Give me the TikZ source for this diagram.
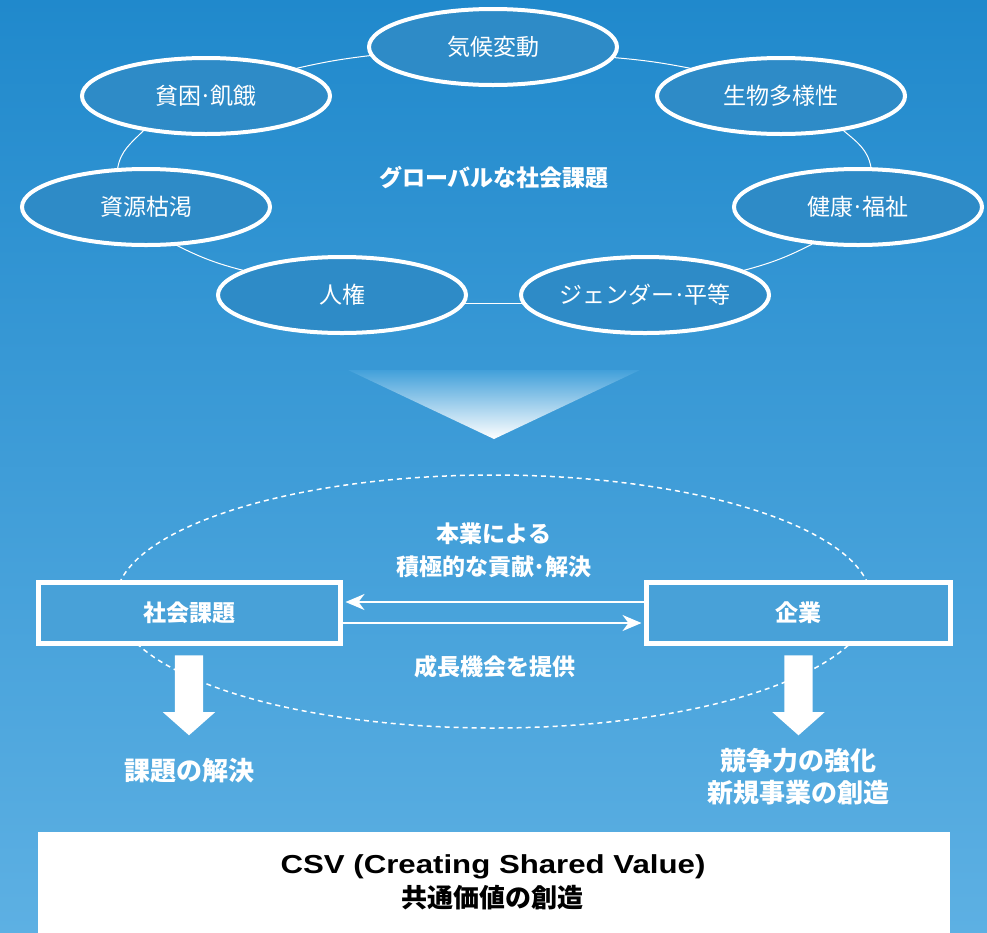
\documentclass[tikz,border=0pt]{standalone}
\usepackage{graphicx}
\usepackage{fontspec}
\newfontfamily\jp{Noto Sans CJK JP}
\newfontfamily\lat{Liberation Sans}
\usetikzlibrary{shapes.geometric,shapes.arrows,arrows.meta}
\definecolor{bgtop}{RGB}{32,137,204}
\definecolor{bgbot}{RGB}{93,176,227}
\definecolor{ellfill}{RGB}{46,139,199}
\definecolor{boxfill}{RGB}{72,161,216}
\definecolor{tritop}{RGB}{66,160,218}
\newcommand\nakaten{\kern-0.08em·\kern-0.08em}
\begin{document}
\begin{tikzpicture}[x=1pt,y=-1pt,
 issue/.style={ellipse, draw=white, line width=4pt, fill=ellfill, minimum width=248pt, minimum height=76pt, inner sep=0pt, text=white, font=\jp\fontsize{23}{26}\selectfont},
 link/.style={draw=white, line width=1pt},
 actor/.style={rectangle, draw=white, line width=5pt, fill=boxfill, minimum height=61pt, inner sep=0pt, text=white, font=\jp\bfseries\fontsize{23}{26}\selectfont},
 lbl/.style={text=white, align=center, inner sep=0pt, font=\jp\bfseries\fontsize{23}{33}\selectfont},
 result/.style={text=white, align=center, inner sep=0pt, font=\jp\bfseries\fontsize{26}{32}\selectfont},
 flow/.style={draw=white, line width=2pt, -{Stealth[length=19pt,width=16pt,inset=6pt]}, shorten >=2.5pt},
 bigarrow/.style={single arrow, fill=white, draw=none, rotate=-90, minimum height=80pt, inner sep=14pt, single arrow head extend=12pt, single arrow tip angle=97},
]
% background
\shade[top color=bgtop, bottom color=bgbot] (0,0) rectangle (987,932);
\useasboundingbox (0,0) rectangle (987,932);

% ring of global issues
\node[issue] (cli) at (493,47) {気候変動};
\node[issue] (pov) at (206,96) {貧困\nakaten 飢餓};
\node[issue] (bio) at (781,96) {生物多様性};
\node[issue] (res) at (146,207) {資源枯渇};
\node[issue] (hea) at (858,207) {健康\nakaten 福祉};
\node[issue] (hr)  at (342,295) {人権};
\node[issue] (gen) at (645,295) {ジェンダー\nakaten 平等};

\draw[link] (pov.17) to[bend left=3] (cli.184.6);
\draw[link] (cli.355.4) to[bend left=3] (bio.163);
\draw[link] (pov.209) to[out=225,in=80] (res.126);
\draw[link] (res.309) to[bend right=6] (hr.166);
\draw[link] (hr.-4) -- (gen.184);
\draw[link] (gen.14) to[bend right=6] (hea.219.6);
\draw[link] (bio.331) to[out=-40,in=100] (hea.72);

\node[text=white, font=\jp\bfseries\fontsize{23}{26}\selectfont] (global) at (494,178) {グローバルな社会課題};

% funnel triangle
\shade[top color=tritop, bottom color=white] (348,370) -- (640,370) -- (494,439) -- cycle;

% CSV cycle
\node[ellipse, draw=white, line width=1.5pt, dash pattern=on 5pt off 4pt, minimum width=756pt, minimum height=253pt, inner sep=0pt] (cyc) at (493.5,601.5) {};

\node[actor, minimum width=302pt] (soc) at (189.5,613) {社会課題};
\node[actor, minimum width=304pt] (firm) at (798.5,613) {企業};

\draw[flow] ([yshift=11pt]firm.west) -- ([yshift=11pt]soc.east);
\draw[flow] ([yshift=-10pt]soc.east) -- ([yshift=-10pt]firm.west);

\node[lbl] (contrib) at (494,550.5) {本業による\\積極的な貢献\nakaten 解決};
\node[lbl] (growth) at (494.5,667) {成長機会を提供};

\node[bigarrow] (downL) at (189,689) {};
\node[bigarrow] (downR) at (798.5,689) {};

\node[result] (solve) at (189.5,771) {課題の解決};
\node[result] (compete) at (798.5,777) {競争力の強化\\新規事業の創造};

% CSV box
\node[rectangle, fill=white, minimum width=912pt, minimum height=110pt, inner sep=0pt, anchor=north] (csv) at (494,832) {};
\node[inner sep=0pt, text=black, font=\lat\bfseries\fontsize{26}{30}\selectfont] (csvline) at (493,867) {\scalebox{1.2}[1]{CSV (Creating Shared Value)}};
\node[inner sep=0pt, text=black, font=\jp\bfseries\fontsize{26}{30}\selectfont] (csvjp) at (492,898) {共通価値の創造};
\end{tikzpicture}
\end{document}
